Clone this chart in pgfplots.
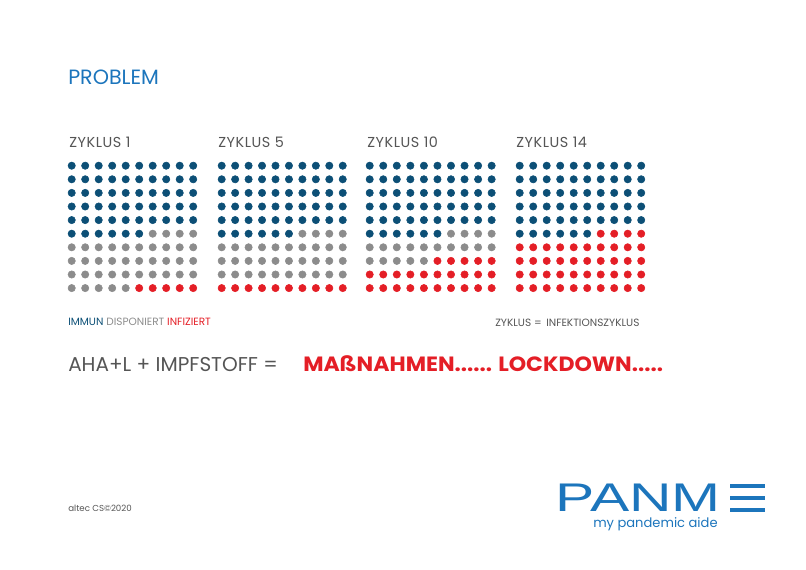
\documentclass[border=0pt]{standalone}
\usepackage{pgfplots}
\pgfplotsset{compat=1.18}
\usepackage{pgfplotstable}
\usepackage{fontspec}
\setmainfont{Poppins}
\newfontfamily\logofont{Liberation Sans}
\newfontfamily\spacedfont[LetterSpace=4]{Poppins}
\definecolor{dotblue}{RGB}{12,79,118}
\definecolor{dotgray}{RGB}{140,140,140}
\definecolor{dotred}{RGB}{228,30,38}
\definecolor{titleblue}{RGB}{28,117,188}
\definecolor{txtgray}{RGB}{85,85,85}

% Zyklus 1: s=0 immun, 1 disponiert, 2 infiziert
\pgfplotstableread[row sep=\\]{
c r s\\
0 0 0\\1 0 0\\2 0 0\\3 0 0\\4 0 0\\5 0 0\\6 0 0\\7 0 0\\8 0 0\\9 0 0\\
0 1 0\\1 1 0\\2 1 0\\3 1 0\\4 1 0\\5 1 0\\6 1 0\\7 1 0\\8 1 0\\9 1 0\\
0 2 0\\1 2 0\\2 2 0\\3 2 0\\4 2 0\\5 2 0\\6 2 0\\7 2 0\\8 2 0\\9 2 0\\
0 3 0\\1 3 0\\2 3 0\\3 3 0\\4 3 0\\5 3 0\\6 3 0\\7 3 0\\8 3 0\\9 3 0\\
0 4 0\\1 4 0\\2 4 0\\3 4 0\\4 4 0\\5 4 0\\6 4 0\\7 4 0\\8 4 0\\9 4 0\\
0 5 0\\1 5 0\\2 5 0\\3 5 0\\4 5 0\\5 5 0\\6 5 1\\7 5 1\\8 5 1\\9 5 1\\
0 6 1\\1 6 1\\2 6 1\\3 6 1\\4 6 1\\5 6 1\\6 6 1\\7 6 1\\8 6 1\\9 6 1\\
0 7 1\\1 7 1\\2 7 1\\3 7 1\\4 7 1\\5 7 1\\6 7 1\\7 7 1\\8 7 1\\9 7 1\\
0 8 1\\1 8 1\\2 8 1\\3 8 1\\4 8 1\\5 8 1\\6 8 1\\7 8 1\\8 8 1\\9 8 1\\
0 9 1\\1 9 1\\2 9 1\\3 9 1\\4 9 1\\5 9 2\\6 9 2\\7 9 2\\8 9 2\\9 9 2\\
}\zA
% Zyklus 5
\pgfplotstableread[row sep=\\]{
c r s\\
0 0 0\\1 0 0\\2 0 0\\3 0 0\\4 0 0\\5 0 0\\6 0 0\\7 0 0\\8 0 0\\9 0 0\\
0 1 0\\1 1 0\\2 1 0\\3 1 0\\4 1 0\\5 1 0\\6 1 0\\7 1 0\\8 1 0\\9 1 0\\
0 2 0\\1 2 0\\2 2 0\\3 2 0\\4 2 0\\5 2 0\\6 2 0\\7 2 0\\8 2 0\\9 2 0\\
0 3 0\\1 3 0\\2 3 0\\3 3 0\\4 3 0\\5 3 0\\6 3 0\\7 3 0\\8 3 0\\9 3 0\\
0 4 0\\1 4 0\\2 4 0\\3 4 0\\4 4 0\\5 4 0\\6 4 0\\7 4 0\\8 4 0\\9 4 0\\
0 5 0\\1 5 0\\2 5 0\\3 5 0\\4 5 0\\5 5 0\\6 5 1\\7 5 1\\8 5 1\\9 5 1\\
0 6 1\\1 6 1\\2 6 1\\3 6 1\\4 6 1\\5 6 1\\6 6 1\\7 6 1\\8 6 1\\9 6 1\\
0 7 1\\1 7 1\\2 7 1\\3 7 1\\4 7 1\\5 7 1\\6 7 1\\7 7 1\\8 7 1\\9 7 1\\
0 8 1\\1 8 1\\2 8 1\\3 8 1\\4 8 1\\5 8 1\\6 8 1\\7 8 1\\8 8 1\\9 8 1\\
0 9 2\\1 9 2\\2 9 2\\3 9 2\\4 9 2\\5 9 2\\6 9 2\\7 9 2\\8 9 2\\9 9 2\\
}\zB
% Zyklus 10
\pgfplotstableread[row sep=\\]{
c r s\\
0 0 0\\1 0 0\\2 0 0\\3 0 0\\4 0 0\\5 0 0\\6 0 0\\7 0 0\\8 0 0\\9 0 0\\
0 1 0\\1 1 0\\2 1 0\\3 1 0\\4 1 0\\5 1 0\\6 1 0\\7 1 0\\8 1 0\\9 1 0\\
0 2 0\\1 2 0\\2 2 0\\3 2 0\\4 2 0\\5 2 0\\6 2 0\\7 2 0\\8 2 0\\9 2 0\\
0 3 0\\1 3 0\\2 3 0\\3 3 0\\4 3 0\\5 3 0\\6 3 0\\7 3 0\\8 3 0\\9 3 0\\
0 4 0\\1 4 0\\2 4 0\\3 4 0\\4 4 0\\5 4 0\\6 4 0\\7 4 0\\8 4 0\\9 4 0\\
0 5 0\\1 5 0\\2 5 0\\3 5 0\\4 5 0\\5 5 0\\6 5 1\\7 5 1\\8 5 1\\9 5 1\\
0 6 1\\1 6 1\\2 6 1\\3 6 1\\4 6 1\\5 6 1\\6 6 1\\7 6 1\\8 6 1\\9 6 1\\
0 7 1\\1 7 1\\2 7 1\\3 7 1\\4 7 1\\5 7 2\\6 7 2\\7 7 2\\8 7 2\\9 7 2\\
0 8 2\\1 8 2\\2 8 2\\3 8 2\\4 8 2\\5 8 2\\6 8 2\\7 8 2\\8 8 2\\9 8 2\\
0 9 2\\1 9 2\\2 9 2\\3 9 2\\4 9 2\\5 9 2\\6 9 2\\7 9 2\\8 9 2\\9 9 2\\
}\zC
% Zyklus 14
\pgfplotstableread[row sep=\\]{
c r s\\
0 0 0\\1 0 0\\2 0 0\\3 0 0\\4 0 0\\5 0 0\\6 0 0\\7 0 0\\8 0 0\\9 0 0\\
0 1 0\\1 1 0\\2 1 0\\3 1 0\\4 1 0\\5 1 0\\6 1 0\\7 1 0\\8 1 0\\9 1 0\\
0 2 0\\1 2 0\\2 2 0\\3 2 0\\4 2 0\\5 2 0\\6 2 0\\7 2 0\\8 2 0\\9 2 0\\
0 3 0\\1 3 0\\2 3 0\\3 3 0\\4 3 0\\5 3 0\\6 3 0\\7 3 0\\8 3 0\\9 3 0\\
0 4 0\\1 4 0\\2 4 0\\3 4 0\\4 4 0\\5 4 0\\6 4 0\\7 4 0\\8 4 0\\9 4 0\\
0 5 0\\1 5 0\\2 5 0\\3 5 0\\4 5 0\\5 5 0\\6 5 2\\7 5 2\\8 5 2\\9 5 2\\
0 6 2\\1 6 2\\2 6 2\\3 6 2\\4 6 2\\5 6 2\\6 6 2\\7 6 2\\8 6 2\\9 6 2\\
0 7 2\\1 7 2\\2 7 2\\3 7 2\\4 7 2\\5 7 2\\6 7 2\\7 7 2\\8 7 2\\9 7 2\\
0 8 2\\1 8 2\\2 8 2\\3 8 2\\4 8 2\\5 8 2\\6 8 2\\7 8 2\\8 8 2\\9 8 2\\
0 9 2\\1 9 2\\2 9 2\\3 9 2\\4 9 2\\5 9 2\\6 9 2\\7 9 2\\8 9 2\\9 9 2\\
}\zD

\begin{document}
\begin{tikzpicture}
\begin{axis}[
  scale only axis, width=604.5pt, height=427.5pt,
  xmin=0, xmax=806, ymin=0, ymax=570, y dir=reverse,
  hide axis, clip=false,
  scatter/classes={
    0={mark=*, draw=dotblue, fill=dotblue},
    1={mark=*, draw=dotgray, fill=dotgray},
    2={mark=*, draw=dotred, fill=dotred}},
  every axis plot/.append style={only marks, scatter, mark size=2.75pt, point meta=explicit symbolic},
]
\path (axis cs:0,0) rectangle (axis cs:806,570);
\addplot table[x expr=71.7+13.5*\thisrow{c}, y expr=165.7+13.6*\thisrow{r}, meta=s]{\zA};
\addplot table[x expr=221.7+13.45*\thisrow{c}, y expr=165.7+13.6*\thisrow{r}, meta=s]{\zB};
\addplot table[x expr=369.7+13.55*\thisrow{c}, y expr=165.7+13.6*\thisrow{r}, meta=s]{\zC};
\addplot table[x expr=519.7+13.5*\thisrow{c}, y expr=165.7+13.6*\thisrow{r}, meta=s]{\zD};

\node[anchor=base west, inner sep=0, text=titleblue, font=\fontsize{15.5}{18}\selectfont] at (axis cs:68,85) {PROBLEM};
\node[anchor=base west, inner sep=0, text=txtgray, font=\spacedfont\fontsize{10.8}{12}\selectfont] at (axis cs:69,148) {ZYKLUS 1};
\node[anchor=base west, inner sep=0, text=txtgray, font=\spacedfont\fontsize{10.8}{12}\selectfont] at (axis cs:218,148) {ZYKLUS 5};
\node[anchor=base west, inner sep=0, text=txtgray, font=\spacedfont\fontsize{10.8}{12}\selectfont] at (axis cs:367,148) {ZYKLUS 10};
\node[anchor=base west, inner sep=0, text=txtgray, font=\spacedfont\fontsize{10.8}{12}\selectfont] at (axis cs:516,148) {ZYKLUS 14};
\node[anchor=base west, inner sep=0, font=\fontsize{7.9}{9}\selectfont] at (axis cs:68,325)
  {\textcolor{dotblue}{\fontseries{m}\selectfont IMMUN} \textcolor{dotgray}{DISPONIERT} \textcolor{dotred}{INFIZIERT}};
\node[anchor=base west, inner sep=0, text=txtgray, font=\fontsize{7.9}{9}\selectfont] at (axis cs:495,326) {ZYKLUS =\, INFEKTIONSZYKLUS};
\node[anchor=base west, inner sep=0, text=txtgray, font=\fontsize{15}{18}\selectfont] at (axis cs:68,371) {AHA+L + IMPFSTOFF =};
\node[anchor=base west, inner sep=0, text=dotred, font=\fontsize{15.5}{18}\selectfont\bfseries] at (axis cs:303,371) {\scalebox{1.07}[1]{MAßNAHMEN...... LOCKDOWN.....}};
\node[anchor=base west, inner sep=0, text=txtgray, font=\fontsize{6.5}{8}\selectfont] at (axis cs:68,511) {altec CS©2020};

\node[anchor=base west, inner sep=0, text depth=0pt, text=titleblue, font=\logofont\fontsize{30}{32}\selectfont] at (axis cs:555,511.7) {\scalebox{1.47}[1]{PANM}};
\fill[titleblue] (axis cs:730,484) rectangle (axis cs:765,488);
\fill[titleblue] (axis cs:730,495.5) rectangle (axis cs:765,499.5);
\fill[titleblue] (axis cs:730,507.7) rectangle (axis cs:765,511.7);
\node[anchor=base west, inner sep=0, text=titleblue, font=\fontsize{9.8}{12}\selectfont] at (axis cs:593,527.5) {my pandemic aide};
\end{axis}
\end{tikzpicture}
\end{document}
